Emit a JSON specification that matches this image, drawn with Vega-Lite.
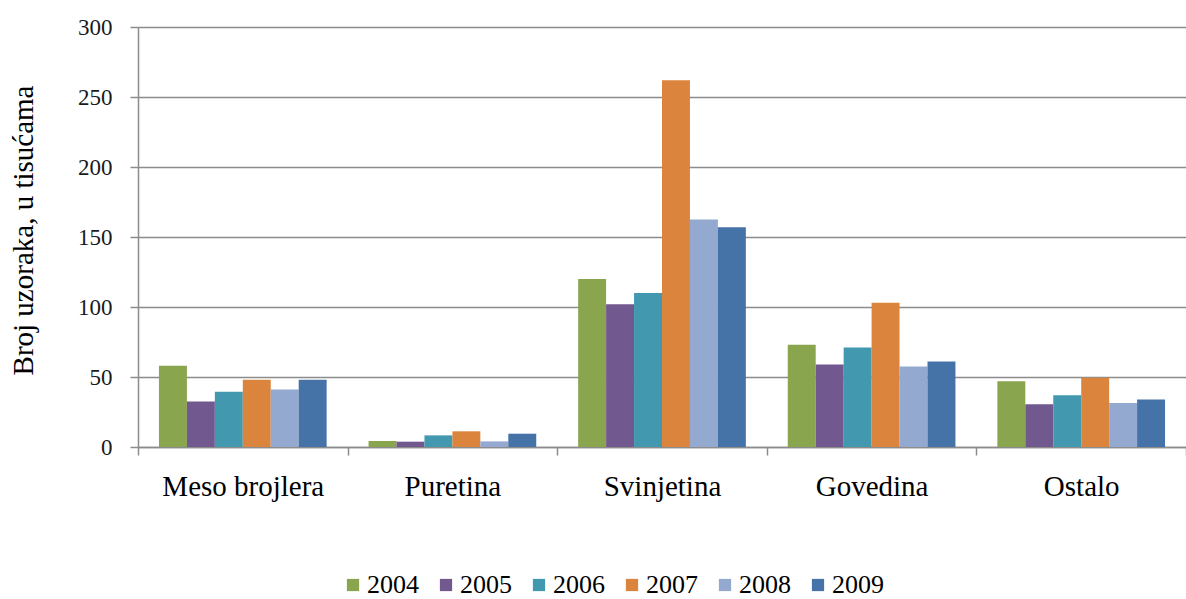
{
  "$schema": "https://vega.github.io/schema/vega-lite/v6.json",
  "autosize": {"type": "none"},
  "padding": {"left": 138, "top": 27, "right": 0, "bottom": 152},
  "width": 1048,
  "height": 420,
  "background": "white",
  "config": {
    "view": {"stroke": null},
    "font": "Liberation Serif"
  },
  "data": {
    "values": [
      {"kategorija": "Meso brojlera", "godina": "2004", "broj": 58},
      {"kategorija": "Meso brojlera", "godina": "2005", "broj": 32.5},
      {"kategorija": "Meso brojlera", "godina": "2006", "broj": 39.5},
      {"kategorija": "Meso brojlera", "godina": "2007", "broj": 48},
      {"kategorija": "Meso brojlera", "godina": "2008", "broj": 41},
      {"kategorija": "Meso brojlera", "godina": "2009", "broj": 48},
      {"kategorija": "Puretina", "godina": "2004", "broj": 4.3},
      {"kategorija": "Puretina", "godina": "2005", "broj": 3.8},
      {"kategorija": "Puretina", "godina": "2006", "broj": 8.3},
      {"kategorija": "Puretina", "godina": "2007", "broj": 11.2},
      {"kategorija": "Puretina", "godina": "2008", "broj": 4},
      {"kategorija": "Puretina", "godina": "2009", "broj": 9.5},
      {"kategorija": "Svinjetina", "godina": "2004", "broj": 120},
      {"kategorija": "Svinjetina", "godina": "2005", "broj": 102},
      {"kategorija": "Svinjetina", "godina": "2006", "broj": 110},
      {"kategorija": "Svinjetina", "godina": "2007", "broj": 262},
      {"kategorija": "Svinjetina", "godina": "2008", "broj": 162.5},
      {"kategorija": "Svinjetina", "godina": "2009", "broj": 157},
      {"kategorija": "Govedina", "godina": "2004", "broj": 73},
      {"kategorija": "Govedina", "godina": "2005", "broj": 59},
      {"kategorija": "Govedina", "godina": "2006", "broj": 71},
      {"kategorija": "Govedina", "godina": "2007", "broj": 103},
      {"kategorija": "Govedina", "godina": "2008", "broj": 57.5},
      {"kategorija": "Govedina", "godina": "2009", "broj": 61},
      {"kategorija": "Ostalo", "godina": "2004", "broj": 47},
      {"kategorija": "Ostalo", "godina": "2005", "broj": 30.5},
      {"kategorija": "Ostalo", "godina": "2006", "broj": 37},
      {"kategorija": "Ostalo", "godina": "2007", "broj": 49.5},
      {"kategorija": "Ostalo", "godina": "2008", "broj": 31.5},
      {"kategorija": "Ostalo", "godina": "2009", "broj": 34}
    ]
  },
  "mark": {"type": "bar"},
  "encoding": {
    "x": {
      "field": "kategorija",
      "type": "nominal",
      "sort": ["Meso brojlera", "Puretina", "Svinjetina", "Govedina", "Ostalo"],
      "scale": {"paddingInner": 0, "paddingOuter": 0},
      "axis": {
        "title": null,
        "labelAngle": 0,
        "labelFont": "Liberation Serif",
        "labelFontSize": 29,
        "labelColor": "#000000",
        "labelPadding": 17,
        "labelBaseline": "top",
        "tickBand": "extent",
        "tickSize": 8,
        "tickColor": "#8c8c8c",
        "tickWidth": 1.5,
        "domainColor": "#8c8c8c",
        "domainWidth": 1.5,
        "grid": false
      }
    },
    "xOffset": {
      "field": "godina",
      "type": "nominal",
      "scale": {"paddingInner": 0, "paddingOuter": 0.75}
    },
    "y": {
      "field": "broj",
      "type": "quantitative",
      "scale": {"domain": [0, 300], "nice": false},
      "axis": {
        "title": "Broj uzoraka, u tisućama",
        "titleFont": "Liberation Serif",
        "titleFontSize": 29,
        "titleFontWeight": "normal",
        "titleColor": "#000000",
        "titleX": -115,
        "titleY": 203,
        "titleBaseline": "middle",
        "titleAngle": -90,
        "values": [0, 50, 100, 150, 200, 250, 300],
        "labelFont": "Liberation Serif",
        "labelFontSize": 23,
        "labelColor": "#1a1a1a",
        "labelPadding": 18,
        "tickSize": 8,
        "tickColor": "#8c8c8c",
        "tickWidth": 1.5,
        "domainColor": "#8c8c8c",
        "domainWidth": 1.5,
        "grid": true,
        "gridColor": "#8c8c8c",
        "gridWidth": 1.5
      }
    },
    "color": {
      "field": "godina",
      "type": "nominal",
      "scale": {
        "domain": ["2004", "2005", "2006", "2007", "2008", "2009"],
        "range": ["#89A54E", "#71588F", "#4198AF", "#DB843D", "#93A9CF", "#4572A7"]
      },
      "legend": {
        "title": null,
        "orient": "none",
        "direction": "horizontal",
        "legendX": 202,
        "legendY": 545,
        "padding": 0,
        "symbolType": "square",
        "symbolSize": 150,
        "symbolStrokeWidth": 0,
        "labelFont": "Liberation Serif",
        "labelFontSize": 26,
        "labelColor": "#000000",
        "labelOffset": 1,
        "columnPadding": 14
      }
    }
  }
}
